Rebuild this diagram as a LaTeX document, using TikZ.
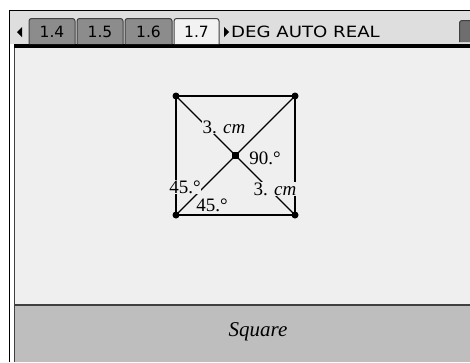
\documentclass[tikz,border=0pt]{standalone}
\usepackage{fontspec}
\setmainfont{Liberation Serif}
\newfontfamily\uifont{DejaVu Sans}
\definecolor{hdrbg}{HTML}{DEDEDE}
\definecolor{mainbg}{HTML}{EFEFEF}
\definecolor{botbg}{HTML}{BEBEBE}
\definecolor{tabgray}{HTML}{8C8C8C}
\definecolor{tabactive}{HTML}{F2F2F2}
\definecolor{darkline}{HTML}{404040}
\definecolor{icongray}{HTML}{6E6E6E}
\begin{document}
\begin{tikzpicture}[x=1pt,y=-1pt,
  lbl/.style={font=\fontsize{19}{19}\selectfont, fill=mainbg, inner sep=0.6pt},
  tabshape/.style={draw=darkline, line width=1pt, rounded corners=2.5pt, fill=tabgray},
  tabtxt/.style={font=\uifont\fontsize{15.5}{15.5}\selectfont, inner sep=0pt},
  vtx/.style={circle, fill=black, inner sep=0pt, minimum size=7pt},
  ctr/.style={rectangle, fill=black, inner sep=0pt, minimum size=7pt},
  edge/.style={black, line width=1.1pt}]
\useasboundingbox (0,0) rectangle (470,362);
\fill[white] (0,0) rectangle (470,362);
% panels
\fill[hdrbg] (10,10) rectangle (470,44);
\fill[mainbg] (14,48) rectangle (470,305);
\fill[botbg] (14,305) rectangle (470,362);
\draw[black, line width=1.5pt] (9.5,362) -- (9.5,10.5) -- (470,10.5);
\fill[black] (14,44) rectangle (470,48);
\draw[darkline, line width=1.5pt] (14.5,48) -- (14.5,362);
\draw[darkline, line width=2pt] (14,305) -- (470,305);
% tab bar
\fill[black] (17,32) -- (22,27) -- (22,37) -- cycle;
\filldraw[tabshape] (29,44) -- (29,18.5) -- (75,18.5) -- (75,44);
\filldraw[tabshape] (77,44) -- (77,18.5) -- (123,18.5) -- (123,44);
\filldraw[tabshape] (125,44) -- (125,18.5) -- (172,18.5) -- (172,44);
\filldraw[tabshape, fill=tabactive] (174,44) -- (174,18.5) -- (219,18.5) -- (219,44);
\node[tabtxt] (t14) at (52,32) {1.4};
\node[tabtxt] (t15) at (100,32) {1.5};
\node[tabtxt] (t16) at (148.5,32) {1.6};
\node[tabtxt] (t17) at (196.5,32) {1.7};
\fill[black] (229,32) -- (224,27) -- (224,37) -- cycle;
\node[tabtxt, anchor=west] (mode) at (231,32) {\scalebox{1.17}[1]{DEG AUTO REAL}};
\filldraw[fill=icongray, draw=darkline, line width=1pt, rounded corners=2.5pt] (459.5,42) -- (459.5,20.5) -- (472,20.5) -- (472,42);
% square
\coordinate (A) at (176,96);
\coordinate (B) at (295,96);
\coordinate (C) at (295,215);
\coordinate (D) at (176,215);
\coordinate (O) at (235.5,155.5);
\draw[edge] (A) -- (B) -- (C) -- (D) -- cycle;
\draw[edge] (A) -- (C);
\draw[edge] (D) -- (B);
% labels
\node[lbl] (l1) at (224,127) {3. \textit{cm}};
\node[lbl] (l2) at (265,158) {90.°};
\node[lbl] (l3) at (185,187) {45.°};
\node[lbl] (l4) at (212,205) {45.°};
\node[lbl] (l5) at (275,189) {3. \textit{cm}};
% points
\node[vtx] (pA) at (A) {};
\node[vtx] (pB) at (B) {};
\node[vtx] (pC) at (C) {};
\node[vtx] (pD) at (D) {};
\node[ctr] (pO) at (O) {};
% caption
\node[font=\fontsize{21}{21}\selectfont\itshape] (cap) at (258,332) {Square};
\end{tikzpicture}
\end{document}
